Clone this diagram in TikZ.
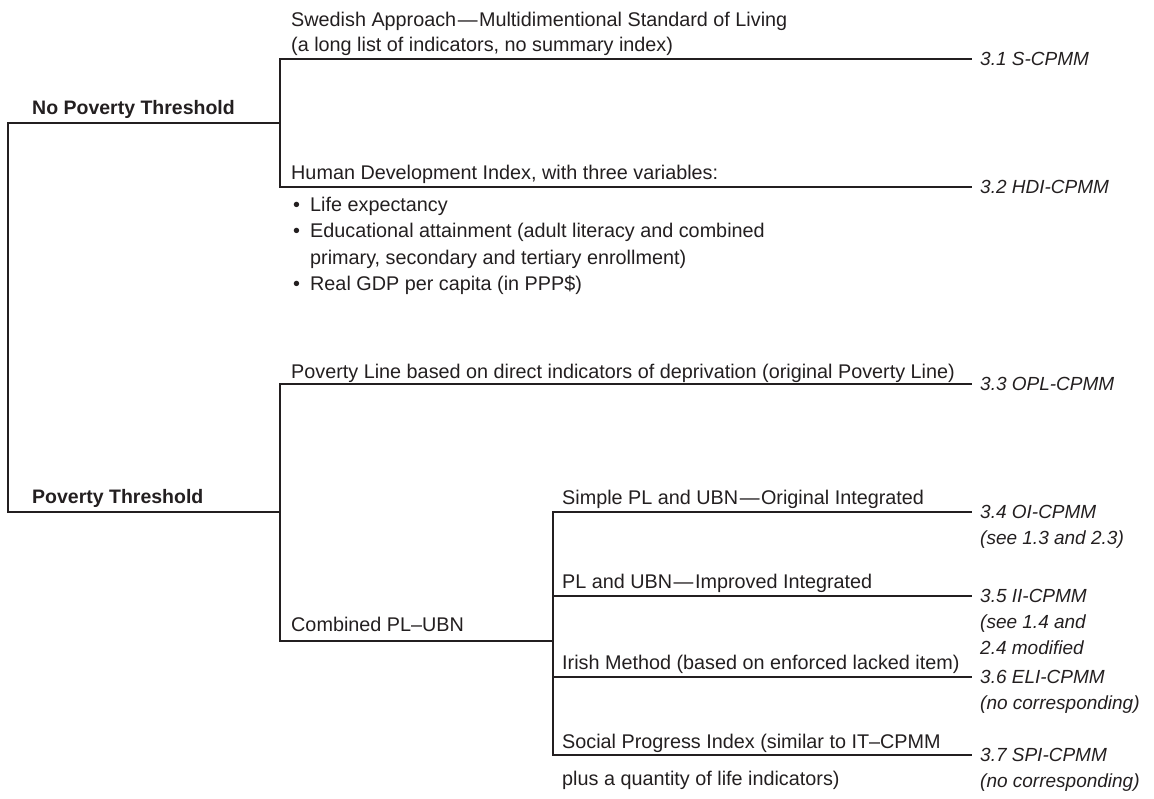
\documentclass[tikz,border=0pt]{standalone}
\usepackage{fontspec}
\setmainfont{Liberation Sans}
\definecolor{ink}{HTML}{231F20}
\newcommand{\mdash}{\kern1.5pt—\kern1.5pt}
\begin{document}
\begin{tikzpicture}[x=1pt,y=-1pt,
  txt/.style={anchor=base west, inner sep=0pt, font=\fontsize{19.8}{26}\selectfont, text=ink},
  hd/.style={txt, font=\fontsize{19.5}{26}\selectfont\bfseries},
  lbl/.style={anchor=west, inner xsep=9pt, inner ysep=0pt, font=\fontsize{19}{26}\selectfont\itshape, text=ink},
  lblx/.style={lbl, anchor=base west},
  tree/.style={draw=ink, line width=1.3pt, line cap=rect}]
\useasboundingbox (0,0) rectangle (1154,798);

% junction coordinates
\coordinate (rT) at (8,123);
\coordinate (rB) at (8,512);
\coordinate (aT) at (280,59);
\coordinate (aM) at (280,123);
\coordinate (aB) at (280,187);
\coordinate (bT) at (280,384);
\coordinate (bM) at (280,512);
\coordinate (bB) at (280,641);
\coordinate (cT) at (553,512);
\coordinate (c2) at (553,596);
\coordinate (cM) at (553,641);
\coordinate (c3) at (553,677);
\coordinate (cB) at (553,755);

% left headings
\node[hd] (hNo) at (32,114) {No Poverty Threshold};
\node[hd] (hPov) at (32,503) {Poverty Threshold};

% first group texts
\node[txt] (sw1) at (291,26) {Swedish Approach\mdash Multidimentional Standard of Living};
\node[txt] (sw2) at (291,51) {(a long list of indicators, no summary index)};
\node[txt] (hdi) at (291,179) {Human Development Index, with three variables:};
\node[txt] (bu1) at (293,211) {\makebox[17pt][l]{•}Life expectancy};
\node[txt] (bu2) at (293,237.5) {\makebox[17pt][l]{•}Educational attainment (adult literacy and combined};
\node[txt] (bu3) at (293,264) {\makebox[17pt][l]{}primary, secondary and tertiary enrollment)};
\node[txt] (bu4) at (293,290.5) {\makebox[17pt][l]{•}Real GDP per capita (in PPP\$)};

% second group texts
\node[txt] (opl) at (291,378) {Poverty Line based on direct indicators of deprivation (original Poverty Line)};
\node[txt] (comb) at (291,631) {Combined PL–UBN};
\node[txt] (sim) at (562,504) {Simple PL and UBN\mdash Original Integrated};
\node[txt] (imp) at (562,588) {PL and UBN\mdash Improved Integrated};
\node[txt] (iri) at (562,669) {Irish Method (based on enforced lacked item)};
\node[txt] (spi1) at (562,748) {Social Progress Index (similar to IT–CPMM};
\node[txt] (spi2) at (562,785) {plus a quantity of life indicators)};

% right labels
\node[lbl] (l31) at (971,59) {3.1 S-CPMM};
\node[lbl] (l32) at (971,187) {3.2 HDI-CPMM};
\node[lbl] (l33) at (971,384) {3.3 OPL-CPMM};
\node[lbl] (l34) at (971,512) {3.4 OI-CPMM};
\node[lblx] (l34b) at ([yshift=-26pt]l34.base west) {(see 1.3 and 2.3)};
\node[lbl] (l35) at (971,596) {3.5 II-CPMM};
\node[lblx] (l35b) at ([yshift=-26pt]l35.base west) {(see 1.4 and};
\node[lblx] (l35c) at ([yshift=-26pt]l35b.base west) {2.4 modified};
\node[lbl] (l36) at (971,677) {3.6 ELI-CPMM};
\node[lblx] (l36b) at ([yshift=-26pt]l36.base west) {(no corresponding)};
\node[lbl] (l37) at (971,755) {3.7 SPI-CPMM};
\node[lblx] (l37b) at ([yshift=-26pt]l37.base west) {(no corresponding)};

% tree connectors
\draw[tree] (aM) -- (rT) -- (rB) -- (bM);
\draw[tree] (l31.west) -- (aT) -- (aB) -- (l32.west);
\draw[tree] (l33.west) -- (bT) -- (bB) -- (cM);
\draw[tree] (l34.west) -- (cT) -- (cB) -- (l37.west);
\draw[tree] (c2) -- (l35.west);
\draw[tree] (c3) -- (l36.west);
\end{tikzpicture}
\end{document}
